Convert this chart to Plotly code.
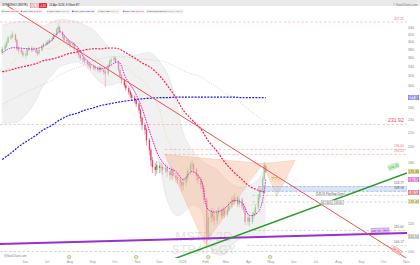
import numpy as np
import pandas as pd
import plotly.graph_objects as go

# ---------------- data ----------------
dates = pd.bdate_range(end="2026-04-24", periods=258)[1::2]  # 2-day bars

opens = [375, 382, 390, 400, 412, 415, 420, 406, 384, 380, 375, 367, 369, 380, 384, 380, 382, 375, 372, 380,
         390, 395, 398, 400, 406, 411, 420, 434, 442, 428, 417, 406, 403, 400, 393, 395, 384, 380, 367, 360,
         356, 352, 347, 342, 338, 340, 336, 333, 338, 333, 329, 325, 342, 352, 356, 360, 352, 333, 320, 311,
         301, 295, 288, 282, 277, 273, 266, 255, 242, 231, 224, 209, 196, 183, 175, 172, 177, 174, 175, 172,
         174, 170, 166, 172, 165, 163, 161, 158, 155, 158, 163, 170, 177, 178, 172, 165, 161, 156, 152, 141,
         111, 125, 130, 126, 123, 129, 131, 127, 132, 128, 132, 136, 141, 139, 143, 137, 141, 135, 132, 122,
         125, 122, 127, 129, 134, 143, 150, 162, 176]
highs = [388, 396, 405, 418, 424, 430, 424, 410, 390, 386, 380, 374, 385, 390, 389, 388, 386, 380, 384, 394,
         400, 404, 406, 411, 416, 425, 440, 455, 447, 432, 420, 411, 408, 404, 401, 398, 389, 383, 371, 365,
         360, 356, 351, 346, 345, 344, 340, 342, 341, 337, 333, 346, 357, 362, 366, 364, 355, 336, 324, 314,
         305, 299, 292, 286, 281, 276, 269, 258, 245, 235, 227, 212, 199, 187, 180, 182, 181, 180, 178, 179,
         177, 173, 176, 174, 169, 167, 164, 161, 162, 167, 174, 181, 183, 180, 174, 168, 164, 159, 155, 143,
         129, 134, 133, 129, 132, 135, 133, 135, 134, 135, 139, 144, 145, 147, 145, 144, 143, 138, 134, 128,
         127, 130, 132, 137, 146, 153, 165, 181, 178]
lows = [368, 377, 385, 396, 406, 410, 400, 378, 372, 370, 362, 360, 365, 376, 374, 375, 370, 365, 368, 376,
        385, 390, 392, 396, 401, 407, 415, 428, 422, 410, 400, 396, 394, 386, 388, 378, 373, 360, 354, 350,
        346, 341, 337, 333, 333, 330, 327, 328, 327, 322, 298, 320, 338, 347, 351, 347, 328, 314, 305, 296,
        290, 283, 276, 272, 267, 260, 249, 236, 224, 217, 202, 189, 176, 168, 165, 167, 168, 169, 166, 168,
        164, 160, 162, 160, 158, 156, 153, 149, 150, 154, 160, 166, 172, 167, 160, 156, 151, 147, 137, 104,
        108, 121, 122, 119, 120, 126, 124, 125, 125, 126, 130, 133, 136, 137, 134, 135, 132, 129, 119, 119,
        118, 120, 124, 127, 132, 140, 148, 160, 168]
closes = [382, 390, 400, 412, 415, 420, 406, 384, 380, 375, 367, 369, 380, 384, 380, 382, 375, 372, 380, 390,
          395, 398, 400, 406, 411, 420, 434, 442, 428, 417, 406, 403, 400, 393, 395, 384, 380, 367, 360, 356,
          352, 347, 342, 338, 340, 336, 333, 338, 333, 329, 325, 342, 352, 356, 360, 352, 333, 320, 311, 301,
          295, 288, 282, 277, 273, 266, 255, 242, 231, 224, 209, 196, 183, 175, 172, 177, 174, 175, 172, 174,
          170, 166, 172, 165, 163, 161, 158, 155, 158, 163, 170, 177, 178, 172, 165, 161, 156, 152, 141, 111,
          125, 130, 126, 123, 129, 131, 127, 132, 128, 132, 136, 141, 139, 143, 137, 141, 135, 132, 122, 125,
          122, 127, 129, 134, 143, 150, 162, 176, 170]

ind_dates = dates[::4]
sma50 = [329, 333, 338, 342, 347, 354, 358, 363, 371, 375, 380, 383, 383, 385, 383, 373, 360, 349, 338, 320,
         301, 277, 255, 239, 225, 208, 194, 181, 170, 161, 154, 150, 148]
sma100 = [265, 273, 280, 288, 296, 303, 311, 322, 331, 338, 344, 354, 359, 363, 363, 363, 359, 357, 356, 354,
          349, 340, 331, 324, 318, 307, 297, 286, 278, 265, 255, 244, 236]
sma200 = [184, 192, 200, 208, 216, 224, 231, 239, 246, 250, 255, 259, 263, 266, 269, 271, 273, 275, 276, 277,
          277, 278, 278, 278, 278, 278, 278, 278, 278, 277, 277, 277, 277]
sma20 = [322, 344, 367, 380, 385, 383, 385, 395, 400, 398, 385, 367, 351, 340, 342, 342, 322, 311, 292, 252,
         212, 190, 174, 167, 162, 154, 146, 142, 137, 134, 136, 137, 139]
ema10 = [373, 385, 385, 383, 383, 390, 406, 429, 406, 388, 360, 342, 335, 342, 351, 316, 288, 258, 216, 186,
         175, 170, 161, 170, 161, 132, 130, 133, 140, 138, 127, 130, 161]
bb_upper = [448, 454, 458, 458, 451, 445, 458, 465, 463, 458, 448, 434, 412, 385, 373, 371, 367, 371, 373, 351,
            326, 273, 219, 196, 183, 177, 172, 163, 155, 153, 155, 161, 177]
bb_lower = [234, 234, 237, 250, 273, 301, 322, 340, 347, 351, 342, 322, 306, 301, 306, 311, 288, 255, 216, 177,
            141, 127, 129, 136, 132, 105, 98, 98, 105, 110, 112, 111, 110]

# horizontal levels
hl_prices = [457.22, 231.92, 196.60, 190.20, 153.77, 148.94, 145.00, 138.80, 115.00, 104.17, 100.00]
hl_starts = ["2025-04-28", "2025-04-28", "2025-12-08", "2025-12-08", "2026-04-14", "2026-04-14",
             "2026-04-06", "2026-04-06", "2026-04-02", "2026-03-30", "2025-04-28"]
hl_labels = ["457.22", "231.92", "196.60", "190.20", "153.77", "148.94", "", "", "115.00", "104.17", ""]
hl_kind = ["red", "redbig", "red", "red", "blue", "blue", "grey", "grey", "grey", "grey", "grey"]

# trend lines (date, price)
lineA_x = ["2025-05-06", "2026-11-02"]; lineA_y = [512, 95.4]
green_x = ["2025-12-09", "2026-11-02"]; green_y = [93.3, 168.2]
purple_x = ["2025-04-28", "2026-11-02"]; purple_y = [105.1, 113.1]

# pattern drawings
head_x = ["2025-12-08", "2026-04-20", "2026-01-31", "2025-12-08"]
head_y = [190, 179, 105, 190]
proj_x = ["2026-04-20", "2026-06-03", "2026-05-09", "2026-04-20"]
proj_y = [179, 183, 144, 179]
band_x = ["2026-04-14", "2026-11-02", "2026-11-02", "2026-04-14", "2026-04-14"]
band_y = [153.77, 153.77, 148.94, 148.94, 153.77]

earn_dates = ["2025-07-31", "2025-10-30", "2026-02-05", "2026-04-30"]

month_ticks = ["2025-06-01", "2025-07-01", "2025-08-01", "2025-09-01", "2025-10-01", "2025-11-01",
               "2025-12-01", "2026-01-01", "2026-02-01", "2026-03-01", "2026-04-01", "2026-05-01",
               "2026-06-01", "2026-07-01", "2026-08-01", "2026-09-01", "2026-10-01", "2026-11-01"]
month_text = ["Jun", "Jul", "Aug", "Sep", "Oct", "Nov", "Dec", "2026", "Feb", "Mar", "Apr", "May",
              "Jun", "Jul", "Aug", "Sep", "Oct", "Nov"]
price_ticks = [100, 120, 180, 200, 220, 240, 260, 300, 320, 340, 360, 380, 400, 420, 440]

# ---------------- figure ----------------
PW, PH = 407.0, 258.0
def px(x):
    return x / PW
def py(y):
    return 1 - y / PH
L = np.log10

FONT = "Liberation Sans, Arial, sans-serif"
fig = go.Figure()

# Bollinger band
fig.add_trace(go.Scatter(x=ind_dates, y=bb_upper, mode="lines",
                         line=dict(color="#dadada", width=0.5, shape="spline"), hoverinfo="skip"))
fig.add_trace(go.Scatter(x=ind_dates, y=bb_lower, mode="lines", fill="tonexty",
                         fillcolor="rgba(228,228,228,0.5)",
                         line=dict(color="#dadada", width=0.5, shape="spline"), hoverinfo="skip"))

# watermark
fig.add_trace(go.Scatter(x=["2026-01-30"], y=[109.5], mode="text", text=["MSTR 2D"], cliponaxis=False,
                         textfont=dict(size=13, color="rgba(200,200,200,0.5)",
                                       family="Liberation Sans Narrow, Liberation Sans")))
fig.add_trace(go.Scatter(x=["2026-01-30"], y=[100.6], mode="text", text=["STRATEGY"], cliponaxis=False,
                         textfont=dict(size=12, color="rgba(200,200,200,0.5)",
                                       family="Liberation Sans Narrow, Liberation Sans")))

# pattern drawings
fig.add_trace(go.Scatter(x=head_x, y=head_y, mode="lines", fill="toself",
                         fillcolor="rgba(246,170,125,0.35)", line=dict(color="rgba(240,150,100,0.45)", width=0.5)))
fig.add_trace(go.Scatter(x=proj_x, y=proj_y, mode="lines", fill="toself",
                         fillcolor="rgba(246,170,125,0.35)", line=dict(color="rgba(240,150,100,0.45)", width=0.5)))
fig.add_trace(go.Scatter(x=band_x, y=band_y, mode="lines", fill="toself",
                         fillcolor="rgba(175,200,240,0.45)",
                         line=dict(color="rgba(140,170,225,0.8)", width=0.5, dash="2px,1.5px")))

# horizontal levels
styles = {"red": ("rgba(245,140,150,0.7)", 0.7, "#f07080", 3.2),
          "redbig": ("rgba(245,140,150,0.7)", 0.7, "#f05060", 5.2),
          "blue": ("rgba(130,160,220,0.9)", 0.5, "#555555", 3.2),
          "grey": ("rgba(150,150,150,0.8)", 0.5, "#666666", 3.2)}
for p, s, lab, k in zip(hl_prices, hl_starts, hl_labels, hl_kind):
    c, w, tc, fs = styles[k]
    fig.add_trace(go.Scatter(x=[s, "2026-11-02"], y=[p, p], mode="lines",
                             line=dict(color=c, width=w, dash="2.5px,2px"), hoverinfo="skip"))
    if lab:
        fig.add_annotation(x=1, xref="paper", y=L(p), yref="y", text=lab, showarrow=False,
                           xanchor="right", yanchor="bottom", xshift=-1, yshift=-0.5,
                           font=dict(size=fs, color=tc, family=FONT))

# moving averages
fig.add_trace(go.Scatter(x=ind_dates, y=sma100, mode="lines",
                         line=dict(color="#c4c4c4", width=0.7, dash="1px,1.5px", shape="spline")))
fig.add_trace(go.Scatter(x=ind_dates, y=sma20, mode="lines",
                         line=dict(color="#e6d67e", width=0.7, dash="1px,1.5px", shape="spline")))
fig.add_trace(go.Scatter(x=ind_dates, y=sma200, mode="lines",
                         line=dict(color="#1a1aff", width=1.2, dash="2px,1.2px", shape="spline")))
fig.add_trace(go.Scatter(x=ind_dates, y=sma50, mode="lines",
                         line=dict(color="#ff1f4b", width=1.2, dash="2px,1.2px", shape="spline")))

# candles
fig.add_trace(go.Candlestick(x=dates, open=opens, high=highs, low=lows, close=closes,
                             increasing=dict(line=dict(color="#2fa52f", width=0.5), fillcolor="#3dbb3d"),
                             decreasing=dict(line=dict(color="#e8325a", width=0.5), fillcolor="#dc1446"),
                             whiskerwidth=0, hoverinfo="skip"))

fig.add_trace(go.Scatter(x=ind_dates, y=ema10, mode="lines",
                         line=dict(color="#e020e0", width=1.0, dash="1.5px,1px", shape="spline")))

# trend lines
fig.add_trace(go.Scatter(x=purple_x, y=purple_y, mode="lines", line=dict(color="#9a2fd0", width=2)))
fig.add_trace(go.Scatter(x=green_x, y=green_y, mode="lines", line=dict(color="#2a9a2a", width=1.5)))
fig.add_trace(go.Scatter(x=lineA_x, y=lineA_y, mode="lines", line=dict(color="#f05050", width=1)))

# earnings markers
fig.add_trace(go.Scatter(x=earn_dates, y=[96.4] * len(earn_dates), mode="markers", cliponaxis=False,
                         marker=dict(size=3.5, color="#ece6b8", line=dict(color="#b5a955", width=0.6))))

# drawing labels
fig.add_annotation(x="2026-05-08", y=L(162), text="???", showarrow=False,
                   font=dict(size=5.5, color="#f0954a", family=FONT))
fig.add_annotation(x="2026-07-21", y=L(146.8), text="148.91 Flip/Gap Zone", showarrow=False,
                   bgcolor="white", bordercolor="#999", borderwidth=0.4, borderpad=0.3,
                   font=dict(size=2.8, color="#555", family=FONT))
fig.add_annotation(x="2026-07-24", y=L(138.6), text="(61.80%) 138.80", showarrow=False,
                   bgcolor="white", bordercolor="#999", borderwidth=0.4, borderpad=0.3,
                   font=dict(size=2.8, color="#555", family=FONT))
fig.add_annotation(x="2026-10-15", y=L(175.5), text="168.20", showarrow=False, textangle=-20,
                   bgcolor="rgba(215,245,215,0.9)", bordercolor="#7c7", borderwidth=0.4, borderpad=0.3,
                   font=dict(size=3.2, color="#3a3", family=FONT))
fig.add_annotation(x="2026-10-19", y=L(100.6), text="95.40", showarrow=False, textangle=34,
                   bgcolor="rgba(255,225,225,0.9)", bordercolor="#e55", borderwidth=0.4, borderpad=0.3,
                   font=dict(size=3.2, color="#e33", family=FONT))
fig.add_annotation(x="2026-09-26", y=L(115.3), text="200-Wk SMA", showarrow=False, textangle=-2,
                   bgcolor="rgba(230,205,245,0.95)", bordercolor="#9a2fd0", borderwidth=0.4, borderpad=0.3,
                   font=dict(size=2.8, color="#7a1fb0", family=FONT))

# right axis value boxes
axis_boxes = [(277.3, "277.30", "#dfe4ff", "#3030ff", "#2020c0"),
              (170.35, "170.35", "#f6ef9c", "#c8b840", "#333"),
              (160.95, "160.95", "#f8d8f8", "#d020d0", "#b000b0"),
              (148.10, "148.10", "#ffd8dc", "#e02040", "#d01030"),
              (139.40, "139.40", "#fbf3c0", "#d8c860", "#555"),
              (110.10, "110.10", "#eeeeee", "#aaaaaa", "#666")]
for p, t, bg, bc, fc in axis_boxes:
    fig.add_annotation(x=1, xref="paper", y=L(p), text=t, showarrow=False, xanchor="left", xshift=1,
                       bgcolor=bg, bordercolor=bc, borderwidth=0.4, borderpad=0.3,
                       font=dict(size=3.2, color=fc, family=FONT))

# header bar
fig.add_shape(type="rect", xref="paper", yref="paper", x0=0, x1=420 / PW, y0=py(6), y1=1,
              fillcolor="#e9e9e9", line=dict(width=0), layer="above")
hdr = [(2, "left", "STRATEGY (MSTR)", "#333", None, None),
       (30, "left", "170.35", "#e02030", "white", "#e02030"),
       (39, "left", "-4.45", "white", "#e02030", "#e02030"),
       (49, "left", "24 Apr 2026, 9:59am ET", "#333", None, None),
       (418, "right", "© StockCharts.com", "#777", None, None)]
for x, anc, t, c, bg, bc in hdr:
    fig.add_annotation(x=px(x), xref="paper", y=py(3), yref="paper", text=t, showarrow=False,
                       xanchor=anc, bgcolor=bg, bordercolor=bc, borderwidth=0.3 if bc else 0,
                       borderpad=0.2, font=dict(size=2.8, color=c, family=FONT))

legend_items = [(1, "#3dbb3d", "Price", "170.35", "#dc1446"),
                (20, "#ff1f4b", "SMA(50)", "148.10", "#ff1f4b"),
                (46, "#b0b0b0", "SMA(100)", "236.10", "#999"),
                (71, "#1a1aff", "SMA(200)", "277.30", "#1a1aff"),
                (97, "#d8c850", "SMA(20)", "139.40", "#c0b040"),
                (122, "#e020e0", "EMA(10)", "160.95", "#e020e0"),
                (146, "#aaaaaa", "Bollinger(20,2.0)", "177.0, 110.1", "#888")]
for x, sq, name, val, vc in legend_items:
    txt = f"<span style='color:{sq}'>■</span> {name} <span style='color:{vc}'>{val}</span>"
    fig.add_annotation(x=px(x), xref="paper", y=py(8.6), yref="paper", text=txt, showarrow=False,
                       xanchor="left", bgcolor="rgba(240,240,240,0.9)", borderpad=0.1,
                       font=dict(size=2.5, color="#444", family=FONT))

fig.add_annotation(x=px(2), xref="paper", y=py(259.5), yref="paper", text="@StockCharts.com",
                   showarrow=False, xanchor="left", font=dict(size=2.6, color="#777", family=FONT))

fig.update_layout(
    width=420, height=265, margin=dict(l=0, r=13, t=0, b=7),
    paper_bgcolor="white", plot_bgcolor="white", showlegend=False, hovermode=False,
    font=dict(family=FONT),
    xaxis=dict(type="date", range=["2025-04-28", "2026-11-02"], rangeslider=dict(visible=False),
               tickvals=month_ticks, ticktext=month_text, showgrid=False, zeroline=False,
               showline=False, ticks="", tickfont=dict(size=3.6, color="#999")),
    yaxis=dict(type="log", range=[L(95.8), L(529)], side="right", tickvals=price_ticks,
               ticktext=[str(v) for v in price_ticks], showgrid=False, zeroline=False,
               showline=False, ticks="", tickfont=dict(size=3.6, color="#888")),
)

fig.write_html("out.html")
